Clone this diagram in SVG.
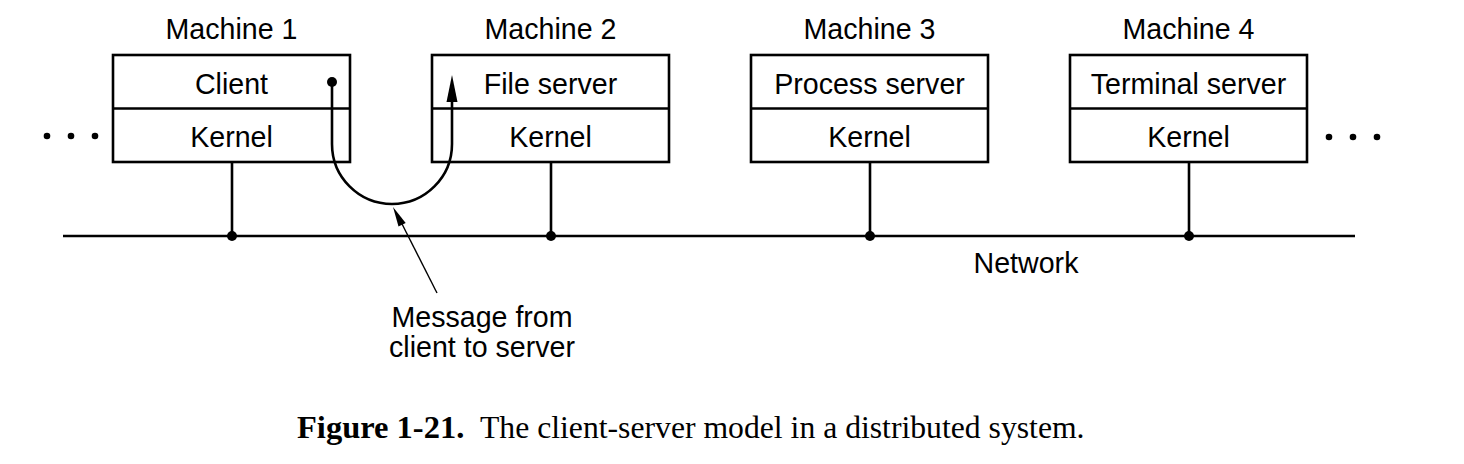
<svg xmlns="http://www.w3.org/2000/svg" width="1464" height="464" viewBox="0 0 1464 464">
<style>
.box{fill:none;stroke:#000;stroke-width:2.6}
.ln{fill:none;stroke:#000;stroke-width:2.6}
.t{font-family:"Liberation Sans",Arial,sans-serif;font-size:28.6px;fill:#000;text-anchor:middle}
.cap{font-family:"Liberation Serif","Times New Roman",serif;font-size:31.7px;fill:#000}
</style>
<rect width="1464" height="464" fill="#fff"/>
<g id="m1">
<text class="t" x="231.5" y="39">Machine 1</text>
<rect class="box" x="113" y="55" width="237" height="107"/>
<line class="ln" x1="113" y1="108.5" x2="350" y2="108.5"/>
<text class="t" x="231.5" y="94">Client</text>
<text class="t" x="231.5" y="147">Kernel</text>
</g>
<g id="m2">
<text class="t" x="550.5" y="39">Machine 2</text>
<rect class="box" x="432" y="55" width="237" height="107"/>
<line class="ln" x1="432" y1="108.5" x2="669" y2="108.5"/>
<text class="t" x="550.5" y="94">File server</text>
<text class="t" x="550.5" y="147">Kernel</text>
</g>
<g id="m3">
<text class="t" x="869.5" y="39">Machine 3</text>
<rect class="box" x="751" y="55" width="237" height="107"/>
<line class="ln" x1="751" y1="108.5" x2="988" y2="108.5"/>
<text class="t" x="869.5" y="94">Process server</text>
<text class="t" x="869.5" y="147">Kernel</text>
</g>
<g id="m4">
<text class="t" x="1188.5" y="39">Machine 4</text>
<rect class="box" x="1070" y="55" width="237" height="107"/>
<line class="ln" x1="1070" y1="108.5" x2="1307" y2="108.5"/>
<text class="t" x="1188.5" y="94">Terminal server</text>
<text class="t" x="1188.5" y="147">Kernel</text>
</g>
<g id="network">
<line class="ln" x1="63" y1="236" x2="1355" y2="236"/>
<text class="t" x="1026" y="273">Network</text>
</g>
<g id="dots" fill="#000">
<circle cx="47" cy="136" r="3.3"/><circle cx="71" cy="136" r="3.3"/><circle cx="95" cy="136" r="3.3"/>
<circle cx="1329" cy="137" r="3.3"/><circle cx="1353" cy="137" r="3.3"/><circle cx="1377" cy="137" r="3.3"/>
</g>
<g id="connectors">
<line class="ln" x1="232" y1="162" x2="232" y2="236"/>
<line class="ln" x1="551" y1="162" x2="551" y2="236"/>
<line class="ln" x1="870" y1="162" x2="870" y2="236"/>
<line class="ln" x1="1189" y1="162" x2="1189" y2="236"/>
<g fill="#000">
<circle cx="232" cy="236" r="5"/><circle cx="551" cy="236" r="5"/><circle cx="870" cy="236" r="5"/><circle cx="1189" cy="236" r="5"/>
<circle cx="332" cy="82" r="5"/>
</g>
<path class="ln" d="M332,82 L332,144 A60,60 0 0 0 452,144 L452,98"/>
<polygon points="452,75 446.5,102 457.5,102" fill="#000"/>
<line x1="437" y1="293" x2="400" y2="220" stroke="#000" stroke-width="1.4"/>
<polygon points="393,207 405.7,223 398.5,226.6" fill="#000"/>
</g>
<g id="label">
<text class="t" x="482" y="327">Message from</text>
<text class="t" x="482" y="357">client to server</text>
</g>
<text class="cap" y="438"><tspan x="297" font-weight="bold" font-size="32.5">Figure 1-21.</tspan><tspan x="480">The client-server model in a distributed system.</tspan></text>
</svg>
